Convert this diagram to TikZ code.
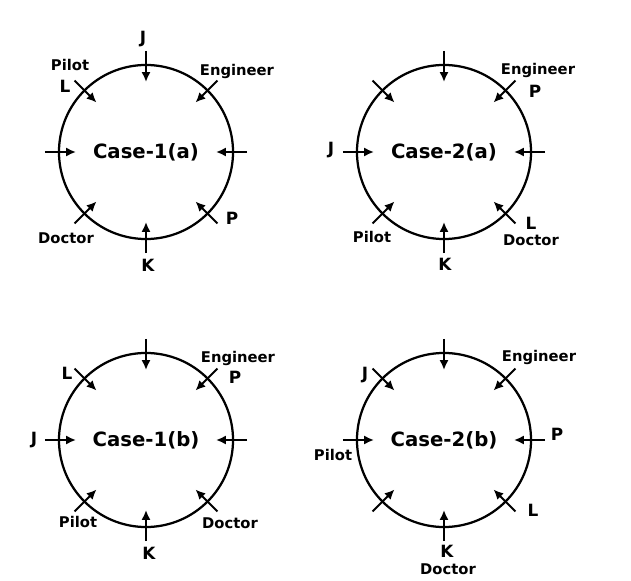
\documentclass[tikz,border=0pt]{standalone}
\usepackage{fontspec}
\setmainfont{DejaVu Sans}
\usetikzlibrary{arrows.meta}

\begin{document}
\begin{tikzpicture}[x=0.025cm,y=0.025cm,
    ring/.style={circle,draw,line width=1.6pt,minimum size=4.35cm,inner sep=0pt,outer sep=0pt,
      font=\fontsize{14}{16}\selectfont\bfseries},
    pin/.style={-{Latex[length=7pt,width=6.5pt]},line width=1.4pt},
    lbl/.style={font=\fontsize{12}{14}\selectfont\bfseries,inner sep=0pt},
    job/.style={font=\fontsize{10.5}{12}\selectfont\bfseries,inner sep=0pt}]
    \useasboundingbox (0,0) rectangle (631,580);
    % circles
    \node[ring] (c1a) at (146,428) {Case-1(a)};
    \node[ring] (c2a) at (444,428) {Case-2(a)};
    \node[ring] (c1b) at (146,140) {Case-1(b)};
    \node[ring] (c2b) at (444,140) {Case-2(b)};
    % seats
    \foreach \c in {c1a,c2a,c1b,c2b}
      \foreach \a in {0,45,...,315}
        \draw[pin] ([shift={(\a:14)}]\c.\a) -- ([shift={(\a:-17)}]\c.\a);
    % case 1(a)
    \node[lbl] (j1a) at (143,541) {J};
    \node[job] (pil1a) at (70,515) {Pilot};
    \node[lbl] (l1a) at (65,494) {L};
    \node[job] (eng1a) at (237,509) {Engineer};
    \node[job] (doc1a) at (66,342) {Doctor};
    \node[lbl] (k1a) at (148,315) {K};
    \node[lbl] (p1a) at (232,362) {P};
    % case 2(a)
    \node[job] (eng2a) at (538,510) {Engineer};
    \node[lbl] (p2a) at (535,489) {P};
    \node[lbl] (j2a) at (331,430) {J};
    \node[job] (pil2a) at (372,343) {Pilot};
    \node[lbl] (k2a) at (445,316) {K};
    \node[lbl] (l2a) at (531,357) {L};
    \node[job] (doc2a) at (531,340) {Doctor};
    % case 1(b)
    \node[lbl] (l1b) at (67,207) {L};
    \node[job] (eng1b) at (238,222) {Engineer};
    \node[lbl] (p1b) at (235,203) {P};
    \node[lbl] (j1b) at (34,140) {J};
    \node[job] (pil1b) at (78,58) {Pilot};
    \node[job] (doc1b) at (230,57) {Doctor};
    \node[lbl] (k1b) at (149,27) {K};
    % case 2(b)
    \node[lbl] (j2b) at (365,205) {J};
    \node[job] (eng2b) at (539,223) {Engineer};
    \node[lbl] (p2b) at (557,146) {P};
    \node[job] (pil2b) at (333,125) {Pilot};
    \node[lbl] (l2b) at (533,70) {L};
    \node[lbl] (k2b) at (447,29) {K};
    \node[job] (doc2b) at (448,11) {Doctor};
\end{tikzpicture}
\end{document}
